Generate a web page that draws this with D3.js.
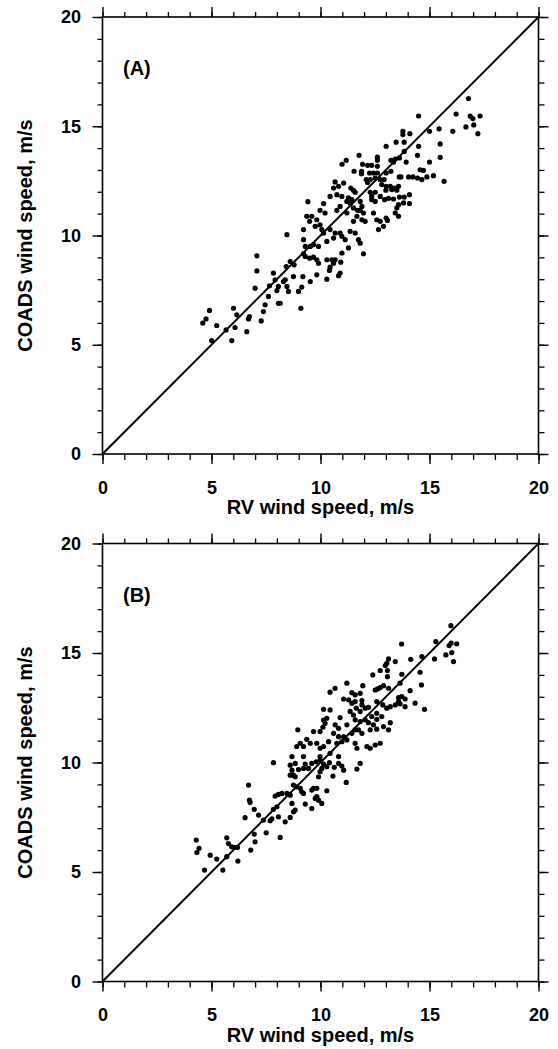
<!DOCTYPE html>
<html>
<head>
<meta charset="utf-8">
<script src="https://cdn.jsdelivr.net/npm/d3@7"></script>
<style>
    body { margin: 0; background: #fff; }
    text { font-family: "Liberation Sans", Arial, Helvetica, sans-serif; font-weight: bold; fill: #000; }
</style>
</head>
<body>
<svg id="chart" width="558" height="1049"></svg>
<script>

// Data
const majorTicks = [0, 5, 10, 15, 20];
const minorTicks = d3.range(0, 21);
const panelLabels = ['(A)', '(B)'];
const xTitle = 'RV wind speed, m/s';
const yTitle = 'COADS wind speed, m/s';

// Panel A: RV vs COADS wind speed
const rvA = [
    16.79, 14.50, 16.22, 16.87, 16.99, 17.32, 16.67, 17.03, 17.22, 16.07,
    15.44, 15.00, 14.10, 13.78, 13.78, 13.47, 13.84, 13.01, 14.50, 15.49,
    13.84, 11.77, 12.61, 12.61, 13.23, 13.35, 13.43, 13.62, 13.93, 14.45,
    15.00, 15.49, 11.18, 10.99, 11.93, 12.16, 12.35, 12.61, 11.54, 11.88,
    11.88, 12.25, 12.43, 12.61, 13.01, 13.23, 13.61, 13.69, 14.04, 14.24,
    14.45, 14.65, 14.88, 15.18, 14.72, 14.57, 15.67, 12.10, 12.28, 12.51,
    12.74, 12.92, 12.16, 10.67, 11.06, 11.39, 11.51, 10.83, 10.60, 12.81,
    13.01, 13.20, 13.38, 13.58, 13.00, 13.27, 13.50, 10.44, 10.75, 10.98,
    11.28, 11.21, 11.36, 12.28, 12.51, 12.35, 12.35, 12.51, 12.74, 12.94,
    13.12, 13.35, 13.62, 13.84, 14.08, 14.08, 13.81, 13.58, 13.50, 11.59,
    11.44, 11.82, 11.90, 11.70, 9.42, 10.14, 9.98, 9.37, 9.60, 9.50,
    9.83, 10.21, 10.75, 10.90, 11.21, 11.51, 11.82, 11.97, 11.67, 11.90,
    12.05, 11.51, 12.43, 12.58, 12.74, 13.01, 13.07, 12.89, 12.66, 13.43,
    13.58, 9.22, 8.46, 9.76, 9.98, 10.06, 10.14, 10.44, 10.67, 10.90,
    10.98, 11.13, 11.36, 11.59, 11.74, 11.82, 11.28, 10.60, 10.29, 9.91,
    9.22, 9.30, 9.53, 9.68,
    7.08, 7.08, 7.84, 7.00, 7.92, 8.07, 8.00, 7.66, 7.61, 8.07,
    7.46, 7.38, 7.28, 6.74, 6.70, 6.62, 6.01, 6.16, 6.08, 5.93,
    5.67, 5.24, 5.01, 4.91, 4.75, 4.60,
    11.97, 10.98, 10.93, 10.90, 10.83, 10.60, 10.44, 10.41, 10.29, 10.29,
    10.52, 10.67, 9.91, 9.83, 9.68, 9.50, 9.30, 9.22, 9.83, 9.53,
    9.19, 9.14, 8.99, 9.10, 8.76, 8.79, 8.61, 8.43, 8.38, 8.30,
    8.46, 8.53, 8.15
];
const coadsA = [
    16.27, 15.47, 15.56, 15.46, 15.35, 15.47, 14.97, 15.06, 14.66, 14.77,
    14.88, 14.77, 14.66, 14.77, 14.62, 14.27, 14.27, 14.08, 14.08, 14.19,
    13.85, 13.67, 13.59, 13.44, 13.44, 13.36, 13.50, 13.55, 13.36, 13.67,
    13.36, 13.58, 13.44, 13.26, 13.26, 13.21, 13.21, 13.17, 12.94, 12.94,
    12.83, 12.86, 12.86, 12.86, 12.86, 12.94, 12.68, 12.68, 12.68, 12.68,
    12.63, 12.56, 12.68, 12.74, 12.98, 13.01, 12.48, 12.56, 12.56, 12.63,
    12.56, 12.56, 12.43, 12.45, 12.40, 12.17, 12.07, 12.25, 12.17, 12.33,
    12.25, 12.25, 12.17, 12.25, 12.07, 12.10, 12.07, 11.79, 11.87, 11.79,
    11.72, 11.56, 11.49, 11.98, 11.98, 11.79, 11.64, 11.56, 11.79, 11.64,
    11.70, 11.67, 11.76, 11.76, 11.87, 11.46, 11.49, 11.41, 11.26, 11.98,
    11.64, 11.56, 11.33, 11.15, 11.55, 11.46, 11.15, 10.88, 10.88, 10.65,
    10.72, 11.03, 11.15, 11.33, 11.03, 11.26, 11.15, 11.03, 10.88, 10.72,
    10.65, 10.65, 11.03, 10.72, 10.65, 10.80, 10.69, 10.42, 10.27, 11.03,
    10.88, 10.27, 10.04, 10.42, 10.49, 10.27, 10.11, 10.27, 10.11, 10.11,
    9.96, 9.81, 10.19, 10.11, 9.81, 9.65, 9.43, 9.88, 9.73, 9.50,
    9.81, 9.50, 9.50, 9.58,
    9.07, 8.38, 8.28, 7.59, 7.97, 7.67, 7.48, 7.70, 7.21, 6.90,
    6.83, 6.52, 6.09, 6.29, 6.18, 5.60, 6.67, 6.37, 5.79, 5.19,
    5.68, 5.88, 5.19, 6.57, 6.18, 5.99,
    9.16, 9.19, 8.78, 8.28, 8.16, 8.73, 8.55, 8.40, 8.00, 8.89,
    8.89, 8.89, 8.73, 8.89, 9.01, 8.96, 9.04, 9.16, 8.20, 7.89,
    8.12, 7.64, 7.44, 6.67, 8.12, 8.66, 8.81, 8.58, 7.97, 7.89,
    7.67, 7.44, 6.90
];

// Panel B: RV vs COADS wind speed
const rvB = [
    15.98, 13.72, 15.29, 15.90, 15.99, 16.25, 15.75, 16.02, 16.10, 15.23,
    14.65, 14.14, 13.43, 13.12, 13.04, 12.97, 12.74, 12.40, 13.07, 13.07,
    13.73, 14.57, 11.21, 10.44, 10.67, 11.44, 11.59, 11.82, 11.94, 12.51,
    12.62, 12.74, 12.89, 13.12, 13.65, 14.11, 14.63, 11.06, 11.29, 11.44,
    11.59, 11.90, 11.90, 12.58, 13.58, 13.73, 13.88, 13.58, 14.34, 14.77,
    12.86, 13.04, 13.20, 13.43, 13.65, 13.88, 11.64, 11.82, 12.05, 12.20,
    10.14, 10.44, 10.29, 10.90, 11.36, 11.51, 12.58, 12.58, 12.81, 12.35,
    11.59, 11.82, 12.05, 12.20, 10.14, 10.21, 10.11, 10.67, 10.83, 11.21,
    12.43, 12.28, 12.58, 12.89, 13.20, 13.12, 8.96, 9.68, 9.98, 9.37,
    9.07, 9.22, 8.91, 8.69, 9.22, 9.53, 9.83, 9.98, 10.14, 10.37,
    10.60, 10.83, 11.06, 11.21, 10.98, 10.75, 11.44, 11.59, 11.74, 11.90,
    11.59, 11.67, 12.13, 12.28, 12.51, 12.74, 10.44, 10.83, 9.98,
    11.82, 11.67, 11.18, 11.06, 10.98, 10.83, 10.63, 10.57, 10.41, 10.14,
    9.98, 9.80, 9.60, 9.30, 10.29, 10.06, 9.45, 9.22, 8.99, 8.76,
    8.61, 8.84, 10.29, 9.83, 9.68, 9.60, 9.83, 9.91, 10.06, 9.76,
    9.30, 9.60, 9.14, 9.07, 9.22, 8.76, 8.91, 8.23, 8.46, 8.61,
    8.69, 8.84, 8.76, 8.61, 8.38, 8.15, 8.84, 8.61, 8.69, 9.98, 9.91,
    7.84, 6.70, 6.74, 6.77, 6.96, 6.54, 7.16, 7.38, 7.69, 7.77,
    7.84, 8.00, 7.92, 8.07, 8.07, 7.51, 6.96, 7.00, 6.80, 6.21,
    6.08, 5.93, 6.19, 5.70, 5.78, 5.70, 5.52, 5.24, 4.94, 4.68,
    4.30, 4.43, 4.33
];
const coadsB = [
    16.25, 15.41, 15.52, 15.34, 15.45, 15.42, 14.91, 15.02, 14.61, 14.73,
    14.84, 14.71, 14.61, 14.73, 14.53, 14.43, 14.20, 14.00, 14.20, 13.92,
    14.03, 14.12, 13.62, 13.21, 13.39, 13.19, 13.09, 13.16, 13.51, 13.31,
    13.36, 13.42, 13.51, 13.39, 13.62, 13.28, 13.54, 12.90, 12.86, 12.71,
    12.78, 12.83, 12.63, 12.78, 12.96, 13.01, 12.90, 12.78, 12.71, 12.43,
    12.63, 12.48, 12.55, 12.63, 12.68, 12.55, 12.48, 12.33, 12.48, 12.52,
    12.43, 12.40, 12.02, 12.05, 12.33, 12.17, 12.25, 11.97, 12.10, 12.10,
    11.95, 11.87, 11.95, 11.82, 11.94, 11.79, 11.61, 11.72, 11.56, 11.72,
    11.72, 11.49, 11.52, 11.64, 11.82, 11.49, 11.49, 11.41, 11.41, 11.06,
    10.88, 10.73, 10.73, 10.27, 10.27, 10.88, 10.88, 10.65, 10.73, 10.95,
    11.33, 11.18, 11.18, 11.03, 10.95, 10.88, 11.33, 11.49, 11.49, 11.33,
    10.88, 10.65, 10.73, 10.65, 10.80, 10.88, 10.42, 10.27, 10.27,
    9.96, 9.70, 9.09, 9.65, 9.84, 9.96, 9.78, 9.38, 9.99, 9.93,
    10.11, 10.03, 9.96, 9.93, 9.81, 9.73, 9.73, 9.73, 9.68, 9.42,
    9.42, 9.35, 8.71, 8.82, 8.82, 8.74, 8.44, 8.28, 8.13, 8.36,
    8.10, 7.90, 8.66, 8.82, 8.59, 8.97, 8.89, 8.59, 8.59, 8.51,
    8.13, 7.83, 7.75, 7.49, 7.29, 6.58, 9.96, 9.88, 9.65, 9.58, 9.35,
    9.99, 8.97, 8.28, 8.18, 7.86, 7.48, 7.60, 7.37, 7.34, 7.43,
    7.86, 7.98, 8.47, 8.54, 7.52, 6.79, 6.73, 6.38, 6.00, 5.50,
    6.12, 6.15, 6.12, 6.56, 6.30, 5.70, 5.09, 5.59, 5.77, 5.09,
    6.46, 6.08, 5.89
];

// Layout
const PLOT_LEFT = 102.5;
const PLOT_WIDTH = 436;
const DOT_RADIUS = 2.6;

const svg = d3.select('#chart');

const panels = [
    { top: 17,    height: 437, label: panelLabels[0], rv: rvA, coads: coadsA },
    { top: 543.5, height: 438, label: panelLabels[1], rv: rvB, coads: coadsB }
];

panels.forEach(drawPanel);

function drawPanel(p) {
    const x = d3.scaleLinear().domain([0, 20]).range([0, PLOT_WIDTH]);
    const y = d3.scaleLinear().domain([0, 20]).range([p.height, 0]);

    const g = svg.append('g')
        .attr('transform', 'translate(' + PLOT_LEFT + ',' + p.top + ')');

    // Ticks, all pointing outwards
    const sides = [
        { axis: d3.axisBottom(x), tr: 'translate(0,' + p.height + ')', minor: 6, labels: true, pad: 17 },
        { axis: d3.axisTop(x),    tr: 'translate(0,0)',                minor: 5, labels: false, pad: 3 },
        { axis: d3.axisLeft(y),   tr: 'translate(0,0)',                minor: 5, labels: true, pad: 11.5 },
        { axis: d3.axisRight(y),  tr: 'translate(' + PLOT_WIDTH + ',0)', minor: 6, labels: false, pad: 3 }
    ];
    sides.forEach((s) => {
        g.append('g')
            .attr('transform', s.tr)
            .call(s.axis.tickValues(minorTicks).tickSize(s.minor).tickFormat(''))
            .call((a) => a.select('.domain').remove())
            .selectAll('line').attr('stroke-width', 1.3);
        const major = g.append('g')
            .attr('transform', s.tr)
            .call(s.axis.tickValues(majorTicks).tickSize(10).tickPadding(s.pad)
                .tickFormat(s.labels ? d3.format('d') : ''))
            .call((a) => a.select('.domain').remove())
            .attr('font-size', 18);
        major.selectAll('line').attr('stroke-width', 1.4);
    });

    // Frame
    g.append('rect')
        .attr('width', PLOT_WIDTH)
        .attr('height', p.height)
        .attr('fill', 'none')
        .attr('stroke', '#000')
        .attr('stroke-width', 1.6);

    // 1:1 line
    g.append('line')
        .attr('x1', x(0)).attr('y1', y(0))
        .attr('x2', x(20)).attr('y2', y(20))
        .attr('stroke', '#000')
        .attr('stroke-width', 2);

    // Points
    g.append('g')
        .selectAll('circle')
        .data(p.rv.map((v, i) => [v, p.coads[i]]))
        .enter().append('circle')
            .attr('cx', (d) => x(d[0]))
            .attr('cy', (d) => y(d[1]))
            .attr('r', DOT_RADIUS)
            .attr('fill', '#000');

    // Panel label
    g.append('text')
        .attr('x', 20.5)
        .attr('y', 58)
        .attr('font-size', 20)
        .text(p.label);

    // Axis titles
    g.append('text')
        .attr('x', PLOT_WIDTH / 2)
        .attr('y', p.height + 60)
        .attr('text-anchor', 'middle')
        .attr('font-size', 20)
        .text(xTitle);
    g.append('text')
        .attr('transform', 'translate(' + (32 - PLOT_LEFT) + ',' + (p.height / 2) + ') rotate(-90)')
        .attr('text-anchor', 'middle')
        .attr('font-size', 20)
        .text(yTitle);
}

</script>
</body>
</html>
